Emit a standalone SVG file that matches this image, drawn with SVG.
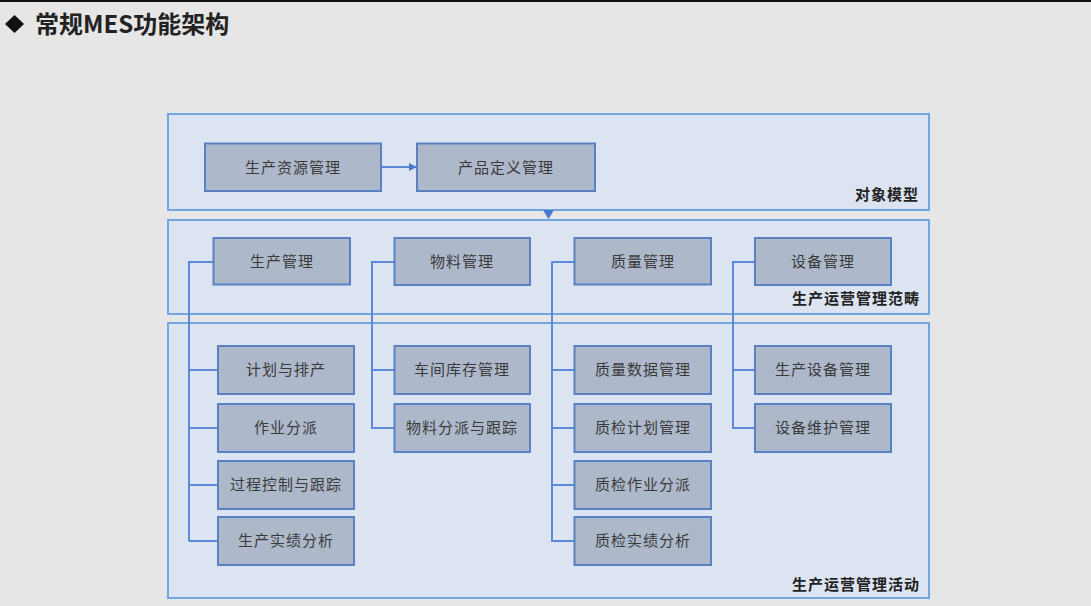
<svg xmlns="http://www.w3.org/2000/svg" width="1091" height="606" viewBox="0 0 1091 606">
<defs>
<marker id="ah" viewBox="0 0 10 10" refX="9" refY="5" markerWidth="8" markerHeight="8" markerUnits="userSpaceOnUse" orient="auto"><path d="M0,0 L10,5 L0,10 z" fill="#4a78cc"/></marker>
<style>
.panel{fill:#dce4f2;stroke:#72a6e0;stroke-width:2}
.node rect{fill:#adb9ca;stroke:#5a80c4;stroke-width:2}
.node text{font-family:"Noto Sans CJK SC","Liberation Sans",sans-serif;font-size:15px;fill:#3a3a3a;text-anchor:middle;letter-spacing:1px}
.lbl{font-family:"Noto Sans CJK SC","Liberation Sans",sans-serif;font-size:15px;font-weight:bold;fill:#222;text-anchor:end;letter-spacing:1px}
.conn{fill:none;stroke:#5b8bd8;stroke-width:2}
</style>
</defs>
<rect width="1091" height="606" fill="#e6e6e6"/>
<rect x="0" y="0" width="1091" height="2" fill="#111"/>
<g id="title">
<path d="M14.5,15 L24,24 L14.5,33 L5,24 z" fill="#111"/>
<text x="35" y="33" font-family="'Noto Sans CJK SC','Liberation Sans',sans-serif" font-size="24" font-weight="bold" fill="#222">常规MES功能架构</text>
</g>
<g id="panels">
<rect class="panel" x="168" y="114" width="761" height="96"/>
<rect class="panel" x="168" y="220" width="761" height="94"/>
<rect class="panel" x="168" y="323" width="761" height="275"/>
<text class="lbl" x="919" y="200">对象模型</text>
<text class="lbl" x="920" y="304">生产运营管理范畴</text>
<text class="lbl" x="920" y="590">生产运营管理活动</text>
</g>
<g id="connectors">
<line class="conn" x1="381" y1="167" x2="416" y2="167" marker-end="url(#ah)"/>
<path d="M543,210 L554,210 L548.5,219 z" fill="#4a78cc"/>
<path class="conn" d="M213,262 H189 V541 M189,370 H218 M189,428 H218 M189,485 H218 M189,541 H218"/>
<path class="conn" d="M394,262 H372 V428 H394 M372,370 H394"/>
<path class="conn" d="M574,262 H552 V541 H574 M552,370 H574 M552,428 H574 M552,485 H574"/>
<path class="conn" d="M755,262 H733 V428 H755 M733,370 H755"/>
</g>
<g id="n1" class="node"><rect x="205" y="143.5" width="176" height="47.5"/><text x="293" y="172.5">生产资源管理</text></g>
<g id="n2" class="node"><rect x="417" y="143.5" width="178" height="47.5"/><text x="506" y="172.5">产品定义管理</text></g>
<g id="n3" class="node"><rect x="213.5" y="238" width="136.5" height="46.5"/><text x="282" y="267">生产管理</text></g>
<g id="n4" class="node"><rect x="394.5" y="238" width="135.5" height="47"/><text x="462" y="267">物料管理</text></g>
<g id="n5" class="node"><rect x="574.5" y="238" width="136.5" height="46.5"/><text x="643" y="267">质量管理</text></g>
<g id="n6" class="node"><rect x="755" y="238" width="136" height="47"/><text x="823" y="267">设备管理</text></g>
<g id="n7" class="node"><rect x="218" y="346" width="136" height="48"/><text x="286" y="375">计划与排产</text></g>
<g id="n8" class="node"><rect x="218" y="404" width="136" height="48"/><text x="286" y="433">作业分派</text></g>
<g id="n9" class="node"><rect x="218" y="461" width="136" height="48"/><text x="286" y="490">过程控制与跟踪</text></g>
<g id="n10" class="node"><rect x="218" y="517" width="136" height="48"/><text x="286" y="546">生产实绩分析</text></g>
<g id="n11" class="node"><rect x="394.5" y="346" width="135.5" height="48"/><text x="462" y="375">车间库存管理</text></g>
<g id="n12" class="node"><rect x="394.5" y="404" width="135.5" height="48"/><text x="462" y="433">物料分派与跟踪</text></g>
<g id="n13" class="node"><rect x="574.5" y="346" width="136.5" height="48"/><text x="643" y="375">质量数据管理</text></g>
<g id="n14" class="node"><rect x="574.5" y="404" width="136.5" height="48"/><text x="643" y="433">质检计划管理</text></g>
<g id="n15" class="node"><rect x="574.5" y="461" width="136.5" height="48"/><text x="643" y="490">质检作业分派</text></g>
<g id="n16" class="node"><rect x="574.5" y="517" width="136.5" height="48"/><text x="643" y="546">质检实绩分析</text></g>
<g id="n17" class="node"><rect x="755" y="346" width="136" height="48"/><text x="823" y="375">生产设备管理</text></g>
<g id="n18" class="node"><rect x="755" y="404" width="136" height="48"/><text x="823" y="433">设备维护管理</text></g>
</svg>
